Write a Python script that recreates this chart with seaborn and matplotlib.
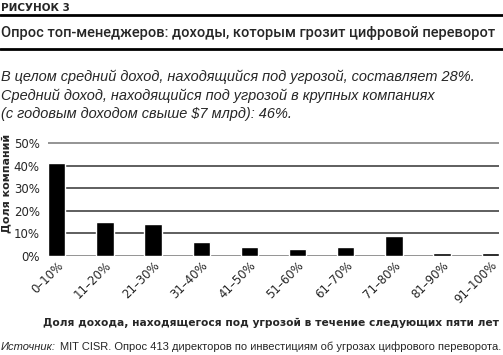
import matplotlib.pyplot as plt
import seaborn as sns
import pandas as pd
from matplotlib.lines import Line2D

categories = ['0–10%', '11–20%', '21–30%', '31–40%', '41–50%',
              '51–60%', '61–70%', '71–80%', '81–90%', '91–100%']
shares = [41, 15, 14, 6, 4, 3, 4, 9, 1.5, 1.5]
y_ticks = [0, 10, 20, 30, 40, 50]

df = pd.DataFrame({'range': categories, 'share': shares})

sns.set_style("white")
plt.rcParams['font.family'] = ['DejaVu Sans']

W, H = 503, 355
fig = plt.figure(figsize=(W / 100, H / 100), dpi=100)

# область графика
ax = fig.add_axes([48 / W, 1 - 256 / H, (499 - 48) / W, (256 - 142) / H])
sns.barplot(data=df, x='range', y='share', color='black', width=0.36,
            saturation=1, ax=ax, zorder=3)
ax.set_xlim(-0.18, len(categories) - 1 + 0.18)
ax.set_ylim(0, 50.5)
ax.set_yticks(y_ticks)
ax.set_yticklabels([f"{t}%" for t in y_ticks], fontsize=8.5)
for t in y_ticks:
    ax.axhline(t, color='#333333' if t not in (0, 50) else '#777777', lw=1.1, zorder=1)
for s in ax.spines.values():
    s.set_visible(False)
ax.tick_params(axis='y', length=0, pad=6)
ax.tick_params(axis='x', length=0, pad=2)
ax.set_xticks(range(len(categories)))
ax.set_xticklabels(categories, rotation=45, ha='right', rotation_mode='anchor', fontsize=8.5)
ax.set_xlabel('')
ax.set_ylabel('Доля компаний', fontsize=8, fontweight='bold')
ax.yaxis.set_label_coords(-0.082, 0.64)

# заголовки
fig.text(1 / W, 1 - 8 / H, 'РИСУНОК 3', fontsize=7.5, fontweight='heavy', va='center', ha='left')
fig.add_artist(Line2D([0, 1], [1 - 15 / H] * 2, color='black', lw=2))
fig.text(1 / W, 1 - 33 / H, 'Опрос топ-менеджеров: доходы, которым грозит цифровой переворот',
         fontsize=10.55, fontweight='medium', va='center', ha='left', family='Roboto')
fig.add_artist(Line2D([0, 1], [1 - 49 / H] * 2, color='black', lw=2))

sub = ['В целом средний доход, находящийся под угрозой, составляет 28%.',
       'Средний доход, находящийся под угрозой в крупных компаниях',
       '(с годовым доходом свыше $7 млрд): 46%.']
for i, line in enumerate(sub):
    fig.text(1 / W, 1 - (77 + i * 18.5) / H, line, fontsize=10.45, style='italic',
             va='center', ha='left', family='Liberation Sans')

fig.text(499 / W, 1 - 323 / H, 'Доля дохода, находящегося под угрозой в течение следующих пяти лет',
         fontsize=7.7, fontweight='bold', va='center', ha='right')

src = fig.text(1 / W, 1 - 347 / H, 'Источник:', fontsize=8, style='italic', va='center', ha='left',
               family='Liberation Sans')
ax.annotate('MIT CISR. Опрос 413 директоров по инвестициям об угрозах цифрового переворота.',
            xy=(1, 0.5), xycoords=src, xytext=(3, 0), textcoords='offset points',
            fontsize=8, va='center', ha='left', family='Liberation Sans', annotation_clip=False)

fig.savefig('out.png', dpi=100)
